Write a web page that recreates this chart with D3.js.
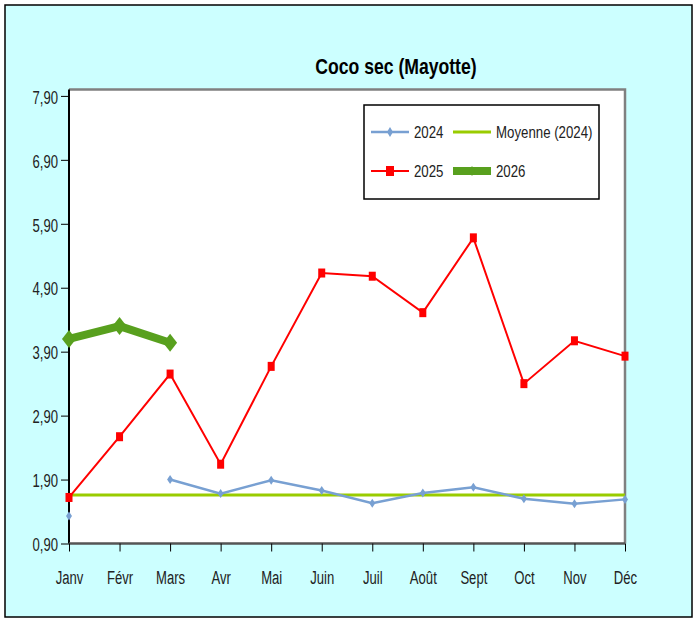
<!doctype html>
<html>
<head>
<meta charset="utf-8">
<script src="https://d3js.org/d3.v7.min.js"></script>
<style>
  body { margin: 0; background: #fff; }
  text { font-family: "Liberation Sans Narrow", "Arial Narrow", "Liberation Sans", sans-serif; }
</style>
</head>
<body>
<svg width="695" height="618"></svg>
<script>
var months = ["Janv", "Févr", "Mars", "Avr", "Mai", "Juin", "Juil", "Août", "Sept", "Oct", "Nov", "Déc"];
var yTicks = [0.9, 1.9, 2.9, 3.9, 4.9, 5.9, 6.9, 7.9];
var v2024 = [1.33, null, 1.90, 1.68, 1.89, 1.73, 1.53, 1.69, 1.78, 1.60, 1.52, 1.59];
var v2025 = [1.62, 2.57, 3.55, 2.14, 3.67, 5.13, 5.08, 4.51, 5.68, 3.40, 4.07, 3.83];
var v2026 = [4.10, 4.30, 4.04];
var moyenne2024 = 1.66;

var svg = d3.select("svg");

// texte "étroit" : on compresse horizontalement autour du point d'ancrage
function narrow(sel, s) {
  sel.each(function() {
    var t = d3.select(this), px = +t.attr("x") || 0;
    var prev = t.attr("transform");
    t.attr("transform", (prev ? prev + " " : "") + "translate(" + px + ",0) scale(" + s + ",1) translate(" + (-px) + ",0)");
  });
}

// fond et cadre
svg.append("rect").attr("x", 5).attr("y", 5).attr("width", 687).attr("height", 612)
   .attr("fill", "#ccffff").attr("stroke", "#000").attr("stroke-width", 1.5);

var pLeft = 69, pRight = 625, pTop = 89.5, pBottom = 543.5;

var x = d3.scalePoint().domain(months).range([pLeft, pRight]);
var y = d3.scaleLinear().domain([0.9, 8.0]).range([pBottom, pTop]);

svg.append("rect").attr("x", pLeft).attr("y", pTop).attr("width", pRight - pLeft).attr("height", pBottom - pTop)
   .attr("fill", "#fff");
// bordures grises haut / droite
svg.append("path").attr("d", "M" + pLeft + "," + pTop + "H" + pRight + "V" + pBottom)
   .attr("fill", "none").attr("stroke", "#808080").attr("stroke-width", 2.5);

svg.append("text").attr("x", 396).attr("y", 74).attr("text-anchor", "middle")
   .attr("font-size", "22px").attr("font-weight", "bold").text("Coco sec (Mayotte)")
   .call(narrow, 0.8);

// axes
var yAxis = d3.axisLeft(y).tickValues(yTicks).tickSize(8).tickPadding(3)
  .tickFormat(function(d) { return d3.format(".2f")(d).replace(".", ","); });
var gy = svg.append("g").attr("transform", "translate(" + pLeft + ",0)").call(yAxis);
gy.select(".domain").attr("d", "M0," + pTop + "V" + pBottom).attr("stroke", "#000").attr("stroke-width", 2);
gy.selectAll("text").attr("font-size", "19px").attr("dy", "0.38em").attr("fill", "#222").call(narrow, 0.69);

var xAxis = d3.axisBottom(x).tickSize(8).tickPadding(19.5);
var gx = svg.append("g").attr("transform", "translate(0," + pBottom + ")").call(xAxis);
gx.select(".domain").attr("d", "M" + pLeft + ",0H" + pRight).attr("stroke", "#555").attr("stroke-width", 2.5);
gx.selectAll("text").attr("font-size", "19px").attr("fill", "#222").call(narrow, 0.69);

var line = d3.line()
  .defined(function(d) { return d != null; })
  .x(function(d, i) { return x(months[i]); })
  .y(function(d) { return y(d); });

function diamond(w, h) {
  return "M0," + (-h / 2) + "L" + (w / 2) + ",0L0," + (h / 2) + "L" + (-w / 2) + ",0Z";
}

// moyenne 2024
svg.append("line").attr("x1", pLeft).attr("x2", pRight)
   .attr("y1", y(moyenne2024)).attr("y2", y(moyenne2024))
   .attr("stroke", "#99cc00").attr("stroke-width", 3);

// 2024
svg.append("path").datum(v2024).attr("d", line)
   .attr("fill", "none").attr("stroke", "#78a0d2").attr("stroke-width", 2.5);
svg.selectAll(".p2024").data(v2024.map(function(d, i) { return {v: d, i: i}; }).filter(function(d) { return d.v != null; }))
   .enter().append("path").attr("class", "p2024")
   .attr("transform", function(d) { return "translate(" + x(months[d.i]) + "," + y(d.v) + ")"; })
   .attr("d", diamond(6, 9)).attr("fill", "#78a0d2");

// 2025
svg.append("path").datum(v2025).attr("d", line)
   .attr("fill", "none").attr("stroke", "#ff0000").attr("stroke-width", 2);
svg.selectAll(".p2025").data(v2025).enter().append("rect").attr("class", "p2025")
   .attr("x", function(d, i) { return x(months[i]) - 3.5; })
   .attr("y", function(d) { return y(d) - 4.5; })
   .attr("width", 7).attr("height", 9).attr("fill", "#ff0000");

// 2026
svg.append("path").datum(v2026).attr("d", line)
   .attr("fill", "none").attr("stroke", "#58a01e").attr("stroke-width", 8).attr("stroke-linejoin", "round");
svg.selectAll(".p2026").data(v2026).enter().append("path").attr("class", "p2026")
   .attr("transform", function(d, i) { return "translate(" + x(months[i]) + "," + y(d) + ")"; })
   .attr("d", diamond(14, 18)).attr("fill", "#58a01e");

// légende
var lg = svg.append("g");
lg.append("rect").attr("x", 364).attr("y", 105).attr("width", 235).attr("height", 94)
  .attr("fill", "#fff").attr("stroke", "#000").attr("stroke-width", 1.5);
var items = [
  {name: "2024", col: "#78a0d2", w: 2.5, mk: "d", x: 371, y: 132},
  {name: "Moyenne (2024)", col: "#99cc00", w: 3, mk: "", x: 453, y: 132},
  {name: "2025", col: "#ff0000", w: 2, mk: "s", x: 371, y: 171},
  {name: "2026", col: "#58a01e", w: 8, mk: "D", x: 453, y: 171}
];
items.forEach(function(it) {
  lg.append("line").attr("x1", it.x).attr("x2", it.x + 38).attr("y1", it.y).attr("y2", it.y)
    .attr("stroke", it.col).attr("stroke-width", it.w);
  var cx = it.x + 19;
  if (it.mk === "d") lg.append("path").attr("transform", "translate(" + cx + "," + it.y + ")").attr("d", diamond(6, 10)).attr("fill", it.col);
  if (it.mk === "s") lg.append("rect").attr("x", cx - 4).attr("y", it.y - 5).attr("width", 8).attr("height", 10).attr("fill", it.col);
  if (it.mk === "D") lg.append("path").attr("transform", "translate(" + cx + "," + it.y + ")").attr("d", diamond(6, 10)).attr("fill", it.col);
  lg.append("text").attr("x", it.x + 43).attr("y", it.y + 6.5).attr("font-size", "17px").attr("fill", "#222").text(it.name)
    .call(narrow, 0.78);
});
</script>
</body>
</html>
